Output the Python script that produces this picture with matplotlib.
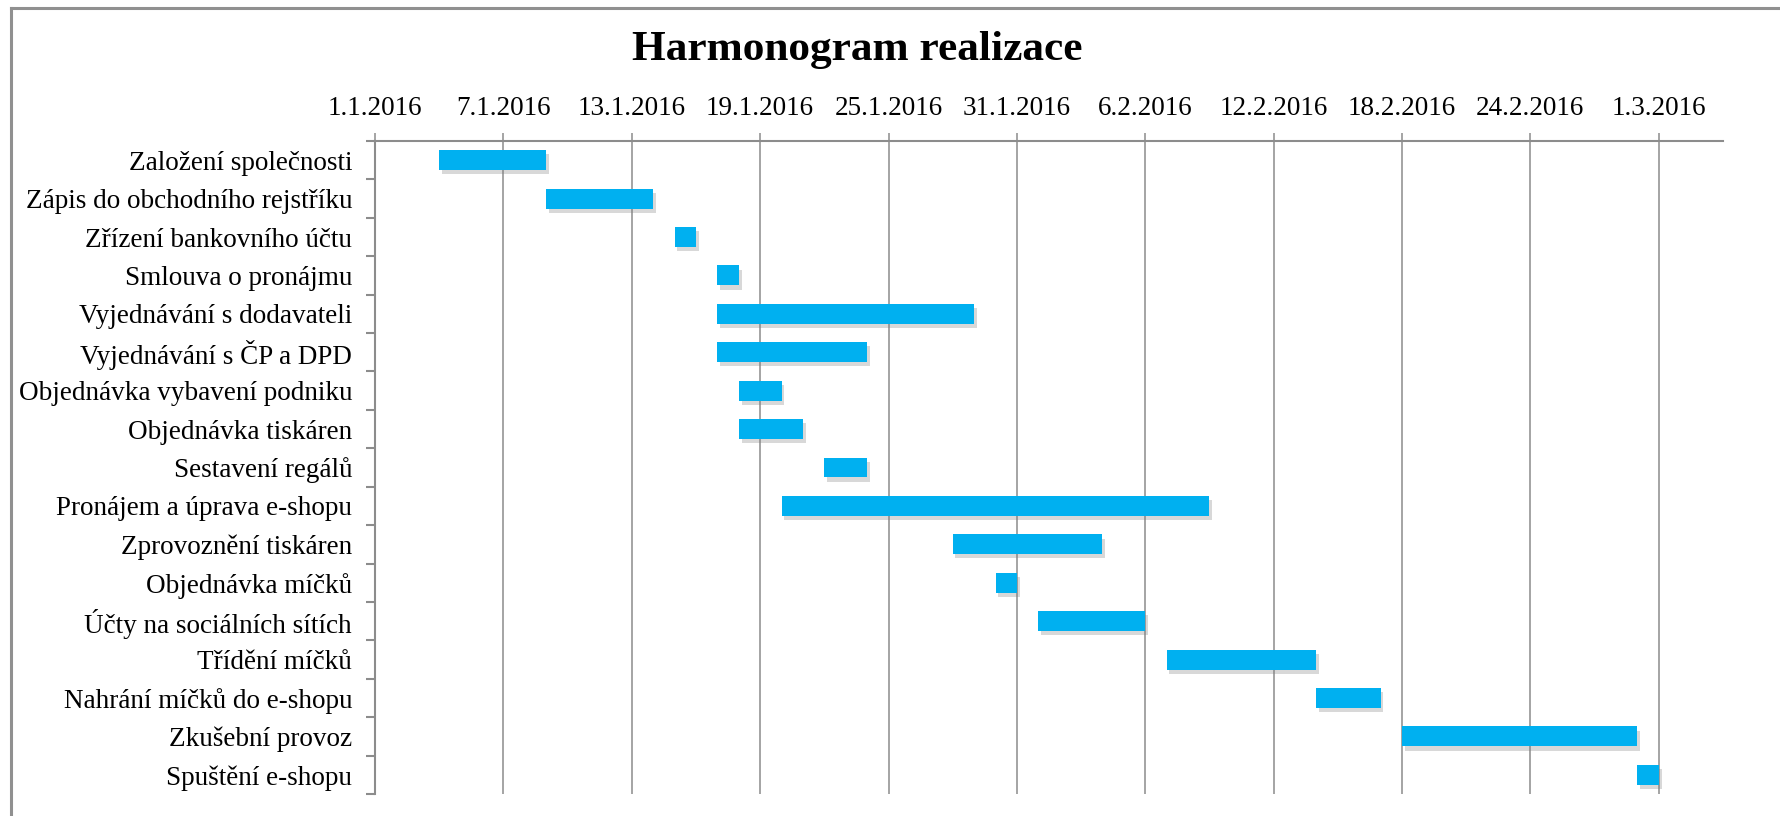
# -*- coding: utf-8 -*-
# Harmonogram realizace - ganttuv diagram
import pandas as pd
import matplotlib
matplotlib.use('Agg')
import matplotlib.pyplot as plt
import matplotlib.dates as mdates
import matplotlib.patheffects as pe
from matplotlib.lines import Line2D

#==============================================================================
#- data
#==============================================================================
ukoly = ['Založení společnosti', 'Zápis do obchodního rejstříku',
         'Zřízení bankovního účtu', 'Smlouva o pronájmu',
         'Vyjednávání s dodavateli', 'Vyjednávání s ČP a DPD',
         'Objednávka vybavení podniku', 'Objednávka tiskáren',
         'Sestavení regálů', 'Pronájem a úprava e-shopu',
         'Zprovoznění tiskáren', 'Objednávka míčků',
         'Účty na sociálních sítích', 'Třídění míčků',
         'Nahrání míčků do e-shopu', 'Zkušební provoz', 'Spuštění e-shopu']
zacatky = ['2016-01-04', '2016-01-09', '2016-01-15', '2016-01-17',
           '2016-01-17', '2016-01-17', '2016-01-18', '2016-01-18',
           '2016-01-22', '2016-01-20', '2016-01-28', '2016-01-30',
           '2016-02-01', '2016-02-07', '2016-02-14', '2016-02-18',
           '2016-02-29']
trvani = [5, 5, 1, 1, 12, 7, 2, 3, 2, 20, 7, 1, 5, 7, 3, 11, 1]

osa_od = '2016-01-01'
osa_do = '2016-03-04'
popisky_od = '2016-01-01'
popisky_do = '2016-03-01'

#==============================================================================
#- graf
#==============================================================================
plt.rcParams['font.family'] = ['Liberation Serif', 'DejaVu Serif']
seda = '#8c8c8c'
modra = '#00b0f0'

fig = plt.figure(figsize=(17.81, 8.16), dpi=100)
ax = fig.add_axes([375 / 1781, 22 / 816, 1348 / 1781, 653 / 816])

zac = mdates.date2num(pd.to_datetime(zacatky))
y = list(range(len(ukoly)))
bary = ax.barh(y, trvani, left=zac, height=0.52, color=modra, zorder=3)
for b in bary:
    b.set_path_effects([pe.SimplePatchShadow(offset=(2, -3), shadow_rgbFace='#808080', alpha=0.3),
                        pe.Normal()])

ax.set_ylim(len(ukoly) - 0.5, -0.5)
ax.set_xlim(mdates.date2num(pd.Timestamp(osa_od)), mdates.date2num(pd.Timestamp(osa_do)))

tiky = pd.date_range(popisky_od, popisky_do, freq='6D')
ax.set_xticks(mdates.date2num(tiky))
ax.set_xticklabels([str(d.day) + '.' + str(d.month) + '.' + str(d.year) for d in tiky], fontsize=19.5)
ax.xaxis.tick_top()
ax.tick_params(axis='x', direction='out', length=5.5, width=1.1, color=seda, pad=9)
ax.grid(axis='x', color=seda, linewidth=1.1, zorder=0)

ax.set_yticks(y)
ax.set_yticklabels(ukoly, fontsize=19.5)
ax.set_yticks([i - 0.5 for i in range(len(ukoly) + 1)], minor=True)
ax.tick_params(axis='y', which='major', length=0, pad=16.5)
ax.tick_params(axis='y', which='minor', direction='out', length=6.5, width=1.5, color=seda)

for s in ['bottom', 'right']:
    ax.spines[s].set_visible(False)
for s in ['top', 'left']:
    ax.spines[s].set_color(seda)
    ax.spines[s].set_linewidth(1.5)

fig.text(857 / 1781, 1 - 60 / 816, 'Harmonogram realizace', ha='center', va='baseline',
         fontsize=31.2, fontweight='bold')

# ramecek grafu
fig.add_artist(Line2D([11 / 1781, 11 / 1781], [0, 1 - 8 / 816], color='#909090', linewidth=2.2))
fig.add_artist(Line2D([11 / 1781, 1], [1 - 8 / 816, 1 - 8 / 816], color='#909090', linewidth=2.2))

plt.savefig('out.png', dpi=100)
plt.close()
